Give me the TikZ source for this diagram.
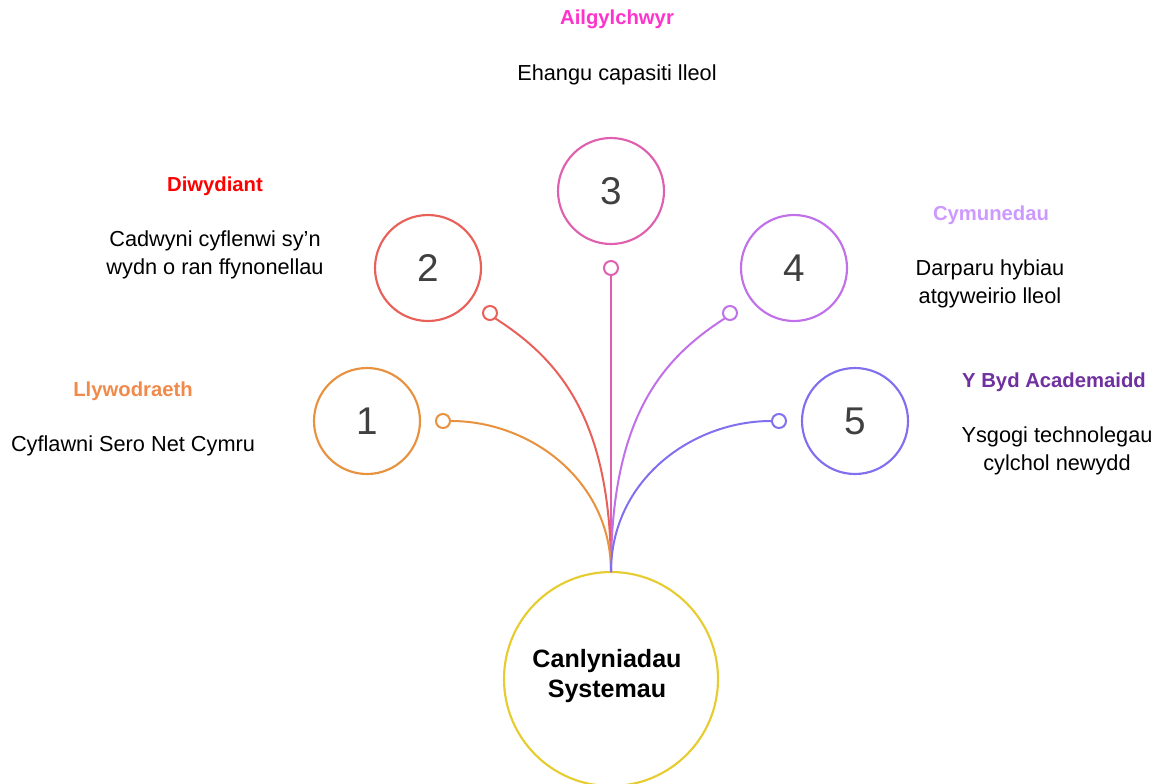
\documentclass[tikz,border=0pt]{standalone}
\usepackage{fontspec}
\setmainfont{Liberation Sans}
\begin{document}
\begin{tikzpicture}[x=0.75pt,y=-0.75pt]
\definecolor{c1}{HTML}{E8913F}
\definecolor{c2}{HTML}{E8605A}
\definecolor{c3}{HTML}{E060B0}
\definecolor{c4}{HTML}{C070E8}
\definecolor{c5}{HTML}{8070F0}
\definecolor{cy}{HTML}{E6CC30}
\definecolor{l1}{HTML}{F08A4B}
\definecolor{l2}{HTML}{FF0000}
\definecolor{l3}{HTML}{FF33CC}
\definecolor{l4}{HTML}{CC99FF}
\definecolor{l5}{HTML}{7030A0}
\definecolor{numc}{HTML}{404040}
\tikzset{
  numcirc/.style={circle,draw=#1,line width=1.6pt,minimum size=106*0.75pt,inner sep=0pt,font=\fontsize{29}{29}\selectfont,text=numc,fill=white},
  dot/.style={circle,draw=#1,line width=1.5pt,minimum size=14*0.75pt,inner sep=0pt,fill=white},
  conn/.style={draw=#1,line width=1.5pt},
  ttl/.style={text=#1,font=\fontsize{15.2}{18}\selectfont\bfseries},
  desc/.style={text=black,font=\fontsize{16.3}{21}\selectfont,align=center}
}
\useasboundingbox (0,0) rectangle (1166,783);
% hub
\node[circle,draw=cy,line width=1.6pt,minimum size=214*0.75pt,inner sep=0pt] (hub) at (611,679) {};
\node[font=\fontsize{18.8}{22.5}\selectfont\bfseries,align=center] (hubt) at (607,676) {Canlyniadau\\Systemau};
\coordinate (top) at (611,572);
% number circles
\node[numcirc=c1] (n1) at (367,421) {1};
\node[numcirc=c2] (n2) at (428,268) {2};
\node[numcirc=c3] (n3) at (611,191) {3};
\node[numcirc=c4] (n4) at (794,268) {4};
\node[numcirc=c5] (n5) at (855,421) {5};
% dots
\node[dot=c1] (d1) at (443,421) {};
\node[dot=c2] (d2) at (490,313) {};
\node[dot=c3] (d3) at (611,268) {};
\node[dot=c4] (d4) at (730,313) {};
\node[dot=c5] (d5) at (779,421) {};
% connectors
\draw[conn=c3] (d3.south) -- (top);
\draw[conn=c2] (d2.south east) .. controls (560,360) and (611,420) .. (top);
\draw[conn=c4] (d4.south west) .. controls (660,360) and (611,420) .. (top);
\draw[conn=c1] (d1.east) .. controls (530,421) and (611,480) .. (top);
\draw[conn=c5] (d5.west) .. controls (692,421) and (611,480) .. (top);
% labels
\node[ttl=l1] (t1) at (133,391) {Llywodraeth};
\node[desc] (s1) at (133,446) {Cyflawni Sero Net Cymru};
\node[ttl=l2] (t2) at (215,186) {Diwydiant};
\node[desc] (s2) at (215,255) {Cadwyni cyflenwi sy'n\\wydn o ran ffynonellau};
\node[ttl=l3] (t3) at (617,19) {Ailgylchwyr};
\node[desc] (s3) at (617,75) {Ehangu capasiti lleol};
\node[ttl=l4] (t4) at (991,215) {Cymunedau};
\node[desc] (s4) at (990,284) {Darparu hybiau\\atgyweirio lleol};
\node[ttl=l5] (t5) at (1054,382) {Y Byd Academaidd};
\node[desc] (s5) at (1057,451) {Ysgogi technolegau\\cylchol newydd};
\end{tikzpicture}
\end{document}
